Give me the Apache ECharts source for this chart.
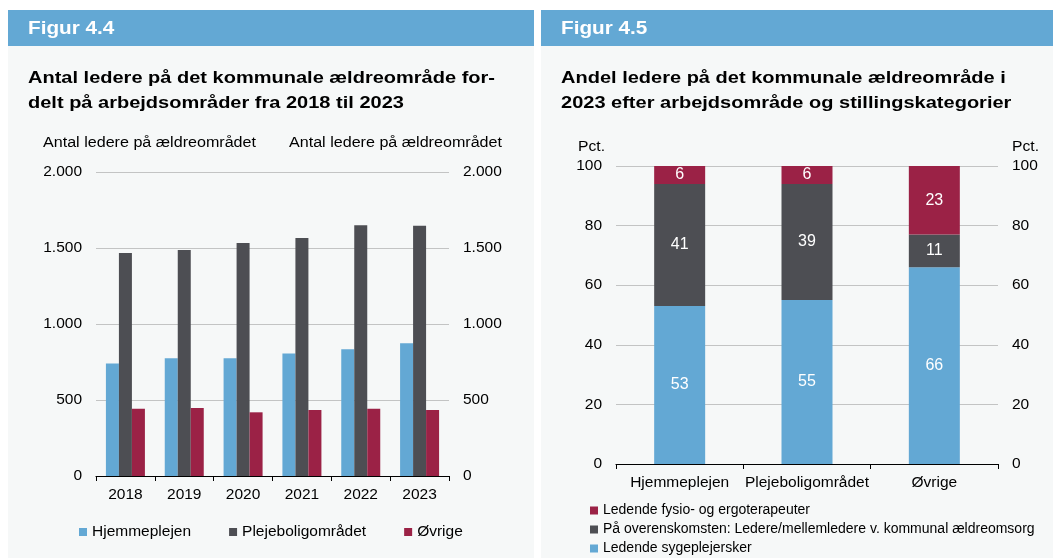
<!DOCTYPE html>
<html>
<head>
<meta charset="utf-8">
<script src="https://cdn.jsdelivr.net/npm/echarts@6/dist/echarts.min.js"></script>
<style>
html,body{margin:0;padding:0;background:#fff;}
#c{width:1053px;height:558px;}
</style>
</head>
<body>
<div id="c"></div>
<script>
// ---- data ----
const years = ['2018', '2019', '2020', '2021', '2022', '2023'];
const hjemmeplejen = [740, 775, 775, 806, 834, 873];
const plejebolig = [1467, 1487, 1533, 1566, 1649, 1647];
const oevrige = [443, 447, 419, 434, 443, 434];

const areas = ['Hjemmeplejen', 'Plejeboligområdet', 'Øvrige'];
const sygeplejersker = [53, 55, 66];
const overenskomst = [41, 39, 11];
const fysio = [6, 6, 23];

const BLUE = '#63a8d4', DARK = '#4d4e53', RED = '#9b2246';
const FONT = '"Liberation Sans", Arial, sans-serif';

function thousands(v) { return String(v).replace(/\B(?=(\d{3})+(?!\d))/g, '.'); }

const chart = echarts.init(document.getElementById('c'), null, {renderer: 'canvas'});

const axisLabel = {color: '#000', fontSize: 15.5, fontFamily: FONT};
const splitLine = {show: true, lineStyle: {color: '#c3c4c4', width: 1.2}};

function txt(x, y, text, font, sx, align) {
  return {type: 'text', x: x, y: y, scaleX: sx,
    style: {text: text, fill: '#000', font: font, textVerticalAlign: 'middle', textAlign: align || 'left'}};
}

const option = {
  animation: false,
  textStyle: {fontFamily: FONT},
  graphic: [
    {type: 'rect', shape: {x: 8, y: 10, width: 526, height: 548}, style: {fill: '#f6f8f8'}, z: -10},
    {type: 'rect', shape: {x: 541, y: 10, width: 512, height: 548}, style: {fill: '#f6f8f8'}, z: -10},
    {type: 'rect', shape: {x: 8, y: 10, width: 526, height: 36}, style: {fill: BLUE}, z: -9},
    {type: 'rect', shape: {x: 541, y: 10, width: 512, height: 36}, style: {fill: BLUE}, z: -9},
    {type: 'text', x: 28, y: 29, scaleX: 1.15, style: {text: 'Figur 4.4', fill: '#fff', font: 'bold 18px ' + FONT, textVerticalAlign: 'middle'}},
    {type: 'text', x: 561, y: 29, scaleX: 1.15, style: {text: 'Figur 4.5', fill: '#fff', font: 'bold 18px ' + FONT, textVerticalAlign: 'middle'}},
    txt(28, 78, 'Antal ledere på det kommunale ældreområde for-', 'bold 17px ' + FONT, 1.177),
    txt(28, 103, 'delt på arbejdsområder fra 2018 til 2023', 'bold 17px ' + FONT, 1.177),
    txt(561, 78, 'Andel ledere på det kommunale ældreområde i', 'bold 17px ' + FONT, 1.177),
    txt(561, 103, '2023 efter arbejdsområde og stillingskategorier', 'bold 17px ' + FONT, 1.177),
    txt(43, 143, 'Antal ledere på ældreområdet', '14px ' + FONT, 1.15),
    txt(502, 143, 'Antal ledere på ældreområdet', '14px ' + FONT, 1.15, 'right'),
    txt(578, 147, 'Pct.', '14px ' + FONT, 1.12),
    txt(1012, 147, 'Pct.', '14px ' + FONT, 1.12)
  ],
  grid: [
    {left: 96, top: 172, width: 353, height: 304},
    {left: 616, top: 166, width: 382, height: 298}
  ],
  xAxis: [
    {type: 'category', gridIndex: 0, data: years,
      axisLine: {lineStyle: {color: '#000', width: 1.2}},
      axisTick: {show: true, length: 5, lineStyle: {color: '#000'}},
      axisLabel: Object.assign({margin: 11, interval: 0}, axisLabel)},
    {type: 'category', gridIndex: 1, data: areas,
      axisLine: {lineStyle: {color: '#000', width: 1.2}},
      axisTick: {show: true, length: 5, lineStyle: {color: '#000'}},
      axisLabel: Object.assign({margin: 11, interval: 0}, axisLabel)}
  ],
  yAxis: [
    {type: 'value', gridIndex: 0, position: 'left', min: 0, max: 2000, interval: 500,
      axisLine: {show: false}, axisTick: {show: false}, splitLine: splitLine,
      axisLabel: Object.assign({margin: 14, formatter: thousands}, axisLabel)},
    {type: 'value', gridIndex: 0, position: 'right', min: 0, max: 2000, interval: 500,
      axisLine: {show: false}, axisTick: {show: false}, splitLine: {show: false},
      axisLabel: Object.assign({margin: 14, formatter: thousands}, axisLabel)},
    {type: 'value', gridIndex: 1, position: 'left', min: 0, max: 100, interval: 20,
      axisLine: {show: false}, axisTick: {show: false}, splitLine: splitLine,
      axisLabel: Object.assign({margin: 14}, axisLabel)},
    {type: 'value', gridIndex: 1, position: 'right', min: 0, max: 100, interval: 20,
      axisLine: {show: false}, axisTick: {show: false}, splitLine: {show: false},
      axisLabel: Object.assign({margin: 14}, axisLabel)}
  ],
  legend: [
    {left: 79, top: 524, padding: 0, itemWidth: 8, itemHeight: 8, itemGap: 38, icon: 'rect',
      textStyle: {fontSize: 15.5, color: '#000', fontFamily: FONT},
      data: ['Hjemmeplejen', 'Plejeboligområdet', 'Øvrige']},
    {left: 590, top: 503, padding: 0, height: 60, orient: 'vertical', itemWidth: 8, itemHeight: 8, itemGap: 4, icon: 'rect',
      textStyle: {fontSize: 14, color: '#000', fontFamily: FONT, lineHeight: 15},
      data: ['Ledende fysio- og ergoterapeuter', 'På overenskomsten: Ledere/mellemledere v. kommunal ældreomsorg', 'Ledende sygeplejersker']}
  ],
  series: [
    {name: 'Hjemmeplejen', type: 'bar', xAxisIndex: 0, yAxisIndex: 0, data: hjemmeplejen,
      barWidth: 13, barGap: '0%', itemStyle: {color: BLUE}},
    {name: 'Plejeboligområdet', type: 'bar', xAxisIndex: 0, yAxisIndex: 0, data: plejebolig,
      barWidth: 13, barGap: '0%', itemStyle: {color: DARK}},
    {name: 'Øvrige', type: 'bar', xAxisIndex: 0, yAxisIndex: 0, data: oevrige,
      barWidth: 13, barGap: '0%', itemStyle: {color: RED}},
    {name: 'Ledende sygeplejersker', type: 'bar', xAxisIndex: 1, yAxisIndex: 2, stack: 'p', data: sygeplejersker,
      barWidth: 51, itemStyle: {color: BLUE},
      label: {show: true, position: 'inside', color: '#fff', fontSize: 16, fontFamily: FONT}},
    {name: 'På overenskomsten: Ledere/mellemledere v. kommunal ældreomsorg', type: 'bar', xAxisIndex: 1, yAxisIndex: 2, stack: 'p', data: overenskomst,
      barWidth: 51, itemStyle: {color: DARK},
      label: {show: true, position: 'inside', color: '#fff', fontSize: 16, fontFamily: FONT}},
    {name: 'Ledende fysio- og ergoterapeuter', type: 'bar', xAxisIndex: 1, yAxisIndex: 2, stack: 'p', data: fysio,
      barWidth: 51, itemStyle: {color: RED},
      label: {show: true, position: 'inside', color: '#fff', fontSize: 16, fontFamily: FONT}}
  ]
};
chart.setOption(option);
</script>
</body>
</html>
